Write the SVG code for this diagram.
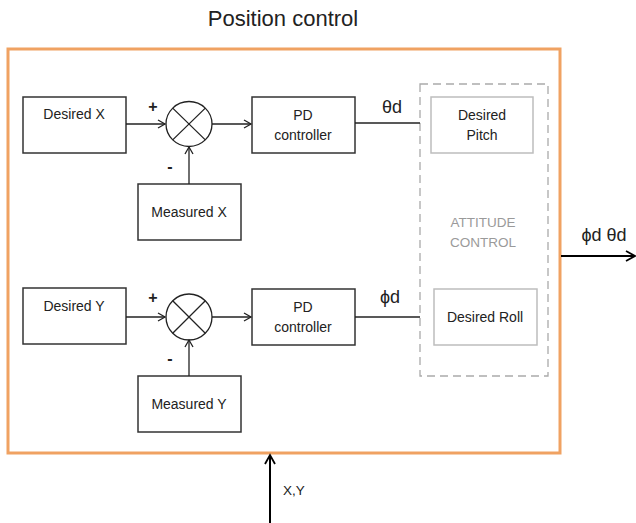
<svg xmlns="http://www.w3.org/2000/svg" width="636" height="523" viewBox="0 0 636 523">
<style>
text{font-family:"Liberation Sans",Arial,sans-serif;fill:#222;text-anchor:middle}
.box{fill:#fff;stroke:#333;stroke-width:1.5}
.lbox{fill:#fff;stroke:#bdbdbd;stroke-width:1.5}
.t{font-size:14px}
.g{font-size:13.5px;fill:#9a9a9a}
.ln{fill:none;stroke:#222;stroke-width:1.3}
.bold{fill:none;stroke:#000;stroke-width:2}
.sym{font-size:16px;font-weight:bold}
.lab{font-size:18px}
</style>
<defs>
<marker id="ah" markerWidth="10" markerHeight="10" refX="8" refY="5" orient="auto" markerUnits="userSpaceOnUse">
<path d="M1,1 L8,5 L1,9" fill="none" stroke="#222" stroke-width="1.3"/>
</marker>
<marker id="ahb" markerWidth="12" markerHeight="12" refX="10" refY="6" orient="auto" markerUnits="userSpaceOnUse">
<path d="M1,1 L10,6 L1,11" fill="none" stroke="#000" stroke-width="1.8"/>
</marker>
</defs>
<rect width="636" height="523" fill="#fff"/>
<text x="283" y="26" style="font-size:22px">Position control</text>
<g id="position-control">
<rect x="8" y="49" width="552" height="404" fill="none" stroke="#F0A262" stroke-width="3"/>
</g>
<g id="attitude-control">
<rect x="420" y="84" width="128" height="292" fill="none" stroke="#aaa" stroke-width="1.3" stroke-dasharray="8,5"/>
<text x="483" y="227" class="g">ATTITUDE</text>
<text x="483" y="247" class="g">CONTROL</text>
</g>
<g id="desired-pitch">
<rect class="lbox" x="431" y="97" width="102" height="56"/>
<text x="482" y="120" class="t">Desired</text>
<text x="482" y="140" class="t">Pitch</text>
</g>
<g id="desired-roll">
<rect class="lbox" x="434" y="289" width="103" height="56"/>
<text x="485" y="322" class="t">Desired Roll</text>
</g>
<g id="desired-x">
<rect class="box" x="23" y="97" width="103" height="56"/>
<text x="74" y="119" class="t">Desired X</text>
</g>
<g id="sum-x">
<ellipse cx="189" cy="124" rx="23" ry="22.5" fill="#fff" stroke="#222" stroke-width="1.3"/>
<path class="ln" d="M172.7,108.1 L205.3,139.9 M205.3,108.1 L172.7,139.9"/>
</g>
<g id="measured-x">
<rect class="box" x="138" y="184" width="103" height="56"/>
<text x="189" y="217" class="t">Measured X</text>
</g>
<g id="pd-x">
<rect class="box" x="252" y="97" width="103" height="56"/>
<text x="303" y="120" class="t">PD</text>
<text x="303" y="140" class="t">controller</text>
</g>
<g id="desired-y">
<rect class="box" x="23" y="288" width="103" height="56"/>
<text x="74" y="311" class="t">Desired Y</text>
</g>
<g id="sum-y">
<ellipse cx="189" cy="317" rx="23" ry="23" fill="#fff" stroke="#222" stroke-width="1.3"/>
<path class="ln" d="M172.7,300.7 L205.3,333.3 M205.3,300.7 L172.7,333.3"/>
</g>
<g id="measured-y">
<rect class="box" x="138" y="376" width="103" height="56"/>
<text x="189" y="409" class="t">Measured Y</text>
</g>
<g id="pd-y">
<rect class="box" x="252" y="289" width="103" height="56"/>
<text x="303" y="312" class="t">PD</text>
<text x="303" y="332" class="t">controller</text>
</g>
<g id="connectors">
<line class="ln" x1="126" y1="124" x2="165" y2="124" marker-end="url(#ah)"/>
<line class="ln" x1="189" y1="184" x2="189" y2="147" marker-end="url(#ah)"/>
<line class="ln" x1="212" y1="124" x2="251" y2="124" marker-end="url(#ah)"/>
<line class="ln" x1="355" y1="123" x2="420" y2="123"/>
<line class="ln" x1="126" y1="317" x2="165" y2="317" marker-end="url(#ah)"/>
<line class="ln" x1="189" y1="376" x2="189" y2="340" marker-end="url(#ah)"/>
<line class="ln" x1="212" y1="317" x2="251" y2="317" marker-end="url(#ah)"/>
<line class="ln" x1="355" y1="317" x2="420" y2="317"/>
<line class="bold" x1="561" y1="256" x2="635" y2="256" marker-end="url(#ahb)"/>
<line class="bold" x1="270" y1="523" x2="270" y2="455" marker-end="url(#ahb)"/>
<text x="153" y="112" class="sym">+</text>
<text x="170" y="172" class="sym">-</text>
<text x="153" y="303" class="sym">+</text>
<text x="170" y="364" class="sym">-</text>
<text x="392" y="113" class="lab">θd</text>
<text x="390" y="303" class="lab">ϕd</text>
<text x="604" y="241" class="lab">ϕd θd</text>
<text x="294" y="495" style="font-size:13.5px">X,Y</text>
</g>
</svg>
